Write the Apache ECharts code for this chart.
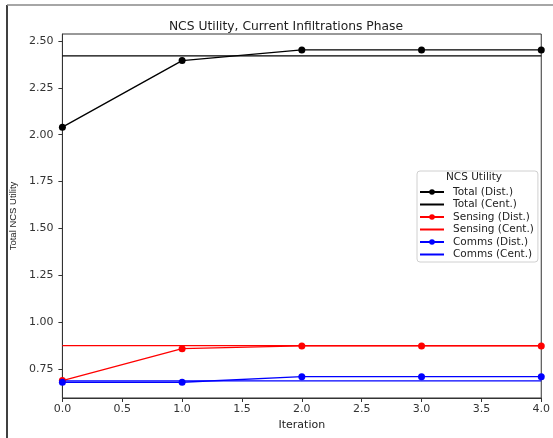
<!DOCTYPE html>
<html><head><meta charset="utf-8">
<script src="https://cdn.jsdelivr.net/npm/echarts@6/dist/echarts.min.js"></script>
<style>html,body{margin:0;padding:0;background:#fff}#c{width:553px;height:438px}</style>
</head><body><div id="c"></div>
<script>
const iterations = [0, 1, 2, 3, 4];
const totalDist = [2.04, 2.395, 2.452, 2.452, 2.452];
const totalCent = 2.42;
const sensingDist = [0.688, 0.858, 0.873, 0.873, 0.873];
const sensingCent = 0.874;
const commsDist = [0.679, 0.679, 0.709, 0.709, 0.709];
const commsCent = 0.686;
const yTicks = [0.75, 1.00, 1.25, 1.50, 1.75, 2.00, 2.25, 2.50];

const pts = arr => iterations.map((x, i) => [x, arr[i]]);
const flat = v => [[iterations[0], v], [iterations[iterations.length - 1], v]];
const font = 'DejaVu Sans';

const chart = echarts.init(document.getElementById('c'), null, {renderer: 'canvas'});
const distSeries = (name, data, color) => ({
  name, type: 'line', data: pts(data), symbol: 'circle', symbolSize: 7,
  lineStyle: {color, width: 1.3}, itemStyle: {color}, z: 3, animation: false
});
const centSeries = (name, v, color) => ({
  name, type: 'line', data: flat(v), symbol: 'none', showSymbol: false,
  lineStyle: {color, width: 1.3}, itemStyle: {color}, z: 2, animation: false
});
const hidden = {opacity: 0, color: 'transparent', borderWidth: 0};

chart.setOption({
  animation: false,
  backgroundColor: '#fff',
  title: {
    text: 'NCS Utility, Current Infiltrations Phase',
    left: 281, top: 16, textAlign: 'center',
    textStyle: {fontFamily: font, fontSize: 12.3, fontWeight: 'normal', color: '#222'}
  },
  grid: {left: 62, right: 9, top: 34, bottom: 40, show: true, borderColor: '#333', borderWidth: 1, backgroundColor: 'transparent'},
  xAxis: {
    type: 'value', min: 0, max: 4, interval: 0.5,
    name: 'Iteration', nameLocation: 'middle', nameGap: 18,
    nameTextStyle: {fontFamily: font, fontSize: 11, color: '#222'},
    axisLine: {show: true, lineStyle: {color: '#333', width: 1}},
    axisTick: {show: true, inside: false, length: 4, lineStyle: {color: '#333'}},
    axisLabel: {fontFamily: font, fontSize: 11, color: '#333', margin: 6, formatter: v => v.toFixed(1)},
    splitLine: {show: false}
  },
  yAxis: {
    type: 'value', min: 0.595, max: 2.537,
    name: 'Total NCS Utility', nameLocation: 'middle', nameGap: 38,
    nameTextStyle: {fontFamily: 'Liberation Sans', fontSize: 9.5, color: '#222'},
    axisLine: {show: true, lineStyle: {color: '#333', width: 1}},
    axisTick: {show: true, inside: false, length: 4, lineStyle: {color: '#333'}, customValues: yTicks},
    axisLabel: {fontFamily: font, fontSize: 11, color: '#333', margin: 9, customValues: yTicks, formatter: v => v.toFixed(2)},
    splitLine: {show: false}
  },
  legend: {
    orient: 'vertical', left: 417, top: 171, width: 115,
    padding: [15.5, 4, 2, 2], itemGap: 1.5, itemWidth: 24, itemHeight: 7,
    borderColor: '#d0d0d0', borderWidth: 1, borderRadius: 3, backgroundColor: '#fff',
    textStyle: {fontFamily: font, fontSize: 10.5, color: '#222', padding: [0, 0, 0, 4]},
    data: [
      {name: 'Total (Dist.)'},
      {name: 'Total (Cent.)', itemStyle: hidden},
      {name: 'Sensing (Dist.)'},
      {name: 'Sensing (Cent.)', itemStyle: hidden},
      {name: 'Comms (Dist.)'},
      {name: 'Comms (Cent.)', itemStyle: hidden}
    ]
  },
  graphic: [
    {type: 'line', shape: {x1: 7, y1: 5, x2: 7, y2: 438}, style: {stroke: '#000', lineWidth: 1.5}, z: 10},
    {type: 'line', shape: {x1: 7, y1: 5, x2: 553, y2: 5}, style: {stroke: '#888', lineWidth: 1.5}, z: 10},
    {type: 'text', left: 446, top: 172, z: 100, style: {text: 'NCS Utility', font: '10.5px "DejaVu Sans"', fill: '#222'}}
  ],
  series: [
    distSeries('Total (Dist.)', totalDist, '#000000'),
    centSeries('Total (Cent.)', totalCent, '#000000'),
    distSeries('Sensing (Dist.)', sensingDist, '#ff0000'),
    centSeries('Sensing (Cent.)', sensingCent, '#ff0000'),
    distSeries('Comms (Dist.)', commsDist, '#0000ff'),
    centSeries('Comms (Cent.)', commsCent, '#0000ff')
  ]
});
</script></body></html>
